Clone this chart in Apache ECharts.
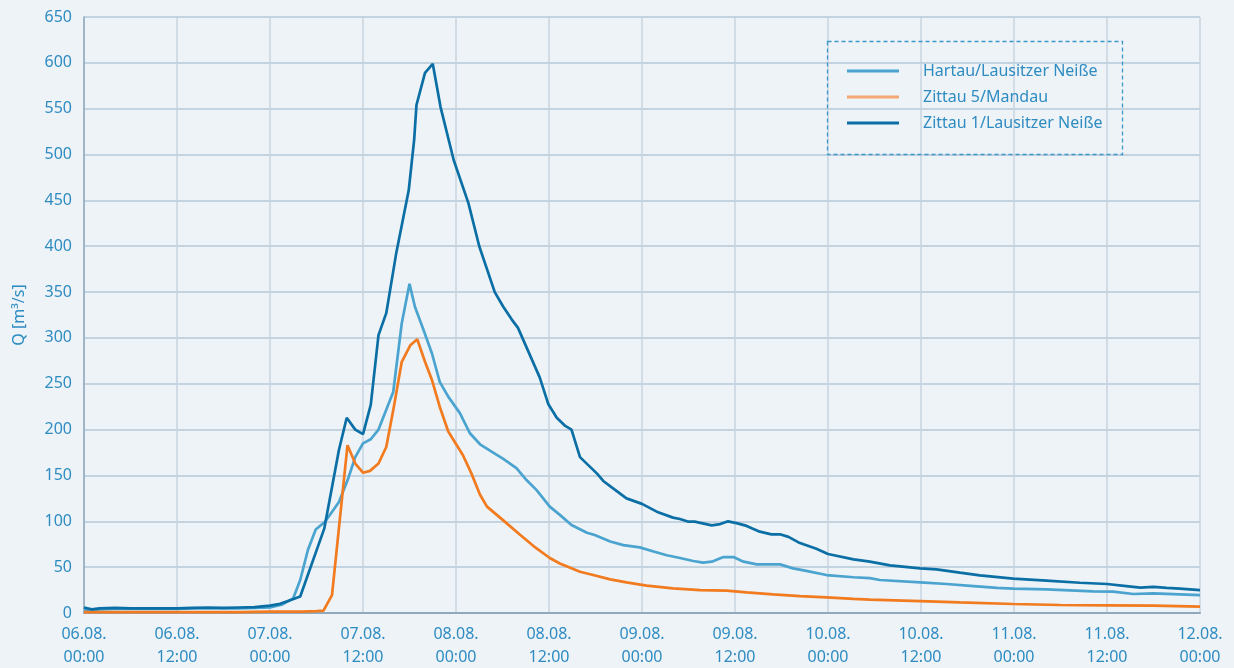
<!DOCTYPE html>
<html>
<head>
<meta charset="utf-8">
<script src="https://cdn.jsdelivr.net/npm/echarts@6/dist/echarts.min.js"></script>
<style>
html,body{margin:0;padding:0;background:#edf3f7;}
#c{width:1234px;height:668px;}
</style>
</head>
<body>
<div id="c"></div>
<script>
// hours since 06.08. 00:00
const seriesNames = ['Hartau/Lausitzer Neiße', 'Zittau 5/Mandau', 'Zittau 1/Lausitzer Neiße'];
const xTicks = [0, 12, 24, 36, 48, 60, 72, 84, 96, 108, 120, 132, 144];

const hartauT = [0, 1, 2, 4, 6, 8, 10, 12, 14, 16, 18, 20, 22, 24, 25.5, 27, 27.9, 28.9, 29.9, 31.1, 32.9, 34.1, 35, 36, 37, 38, 39.9, 41, 42, 42.7, 43.8, 44.9, 45.9, 47, 48.5, 49.8, 51.1, 52.8, 54.1, 55.8, 57.1, 58.4, 60.1, 61.4, 62.9, 64.9, 65.9, 67.9, 69.6, 71.7, 73.5, 75.2, 76.9, 78.6, 79.9, 81, 82.5, 83.8, 85.1, 86.8, 89.8, 91.5, 93.2, 95.8, 99.3, 101.4, 102.7, 107.9, 111.3, 114.8, 117.8, 119.9, 124.2, 130.2, 132.8, 135.4, 138, 141.4, 144];
const hartauQ = [4, 3, 4, 4.5, 4.5, 4.5, 4.5, 4.5, 5, 5, 5, 5, 5.5, 6, 9, 16, 36, 69, 91, 99.6, 121, 147, 170, 185, 189.5, 200, 241, 316, 359, 334, 309, 283, 252, 236, 218, 196, 184, 175, 168, 158, 145, 134, 116, 107, 96, 87.6, 85, 78, 74, 71.6, 67, 63, 60, 56.7, 55, 56, 61, 61, 56, 53, 53, 48.7, 46, 41.4, 39, 38, 36, 33.4, 31.6, 29.4, 27.3, 26.5, 25.8, 23.6, 23.3, 20.7, 21.5, 20.4, 19.6];

const mandauT = [0, 4, 8, 12, 16, 20, 24, 28, 30, 30.9, 32, 34, 35, 36, 36.9, 38, 39, 39.9, 41, 42.1, 43, 44, 44.9, 45.9, 47, 48.9, 50, 51.1, 52, 54.1, 56.3, 58, 60.1, 61.4, 64, 65.7, 67.9, 70, 72.6, 76, 79.5, 82.9, 85.5, 88.9, 92.4, 95.8, 99.3, 101.4, 107.9, 113, 119.9, 125.9, 132, 138, 144];
const mandauQ = [1, 1, 1, 1, 1, 1, 1.5, 1.5, 2, 2.5, 19.6, 183, 163, 153, 155, 163, 181, 221, 274, 292, 298.5, 274, 254, 225, 198, 172, 152, 129, 116, 101, 85, 73, 60, 54, 45, 41.4, 36.7, 33.4, 29.8, 26.9, 25, 24.3, 22.5, 20.4, 18.5, 17, 15.3, 14.5, 13, 11.6, 9.8, 8.7, 8.4, 8, 7];

const zittau1T = [0, 1, 2, 4, 6, 8, 10, 12, 14, 16, 18, 20, 22, 24, 25.3, 26.6, 27.9, 31, 32.9, 33.9, 35, 36, 37, 38, 39, 40.3, 41.9, 42.6, 42.9, 44, 45, 46, 47.7, 49.6, 51, 53, 54.1, 55.2, 56, 58.8, 59.9, 61, 62.1, 62.9, 64, 65.1, 66.2, 67, 68.1, 70, 72, 73.9, 76, 76.9, 78, 78.8, 81, 82.1, 83.1, 84.2, 85.5, 87.2, 88.7, 89.8, 90.9, 92.2, 94.5, 96, 99.3, 101.4, 104, 107.9, 110, 113, 115.6, 119.9, 124.2, 128.5, 132, 134.5, 136.3, 138, 139.7, 141.4, 144];
const zittau1Q = [6, 4, 5, 5.5, 5, 5, 5, 5, 5.5, 6, 5.5, 6, 6.5, 8, 10, 14, 18, 92, 178, 213, 200, 195, 227, 303, 327, 393, 461, 516, 554, 589, 599, 552, 494, 447, 400, 350, 334, 320, 311, 257, 228, 213, 204, 200, 170, 161, 152, 144, 137, 125, 119, 110.5, 104, 102.5, 99.6, 99.6, 95.6, 97, 100, 98, 95, 88.7, 85.8, 85.8, 83, 77, 70, 64.3, 58.5, 56, 52, 48.7, 47.6, 44, 41, 37.4, 35.3, 33, 31.6, 29.4, 27.6, 28.4, 27.3, 26.5, 25];

const zip = (t, q) => t.map((h, i) => [h, q[i]]);
const pad2 = n => (n < 10 ? '0' + n : '' + n);

const textColor = '#2f8cc2';
const font = '"Noto Sans", sans-serif';

const chart = echarts.init(document.getElementById('c'), null, {renderer: 'canvas'});
chart.setOption({
  backgroundColor: '#edf3f7',
  animation: false,
  grid: {left: 84, right: 34, top: 17, bottom: 55, containLabel: false, outerBoundsMode: 'none'},
  xAxis: {
    type: 'value', min: 0, max: 144, interval: 12,
    axisLine: {show: true, lineStyle: {color: '#91a9bd', width: 2}},
    axisTick: {show: false},
    splitLine: {show: true, lineStyle: {color: '#c7d5e0', width: 1.5}},
    axisLabel: {
      color: textColor, fontSize: 16, fontFamily: font, lineHeight: 23, margin: 10,
      formatter: function (v) {
        const d = 6 + Math.floor(v / 24);
        const h = v % 24;
        return pad2(d) + '.08.\n' + pad2(h) + ':00';
      }
    }
  },
  yAxis: {
    type: 'value', min: 0, max: 650, interval: 50,
    name: 'Q [m³/s]', nameLocation: 'middle', nameGap: 57, nameRotate: 90,
    nameTextStyle: {color: textColor, fontSize: 16, fontFamily: font},
    axisLine: {show: true, lineStyle: {color: '#91a9bd', width: 1.5}},
    axisTick: {show: false},
    splitLine: {show: true, lineStyle: {color: '#b5c8d7', width: 1.5}},
    axisLabel: {color: textColor, fontSize: 16, fontFamily: font, margin: 12}
  },
  legend: {
    orient: 'vertical', left: 842, top: 57,
    icon: 'rect', itemWidth: 52, itemHeight: 3, itemGap: 8,
    textStyle: {color: textColor, fontSize: 16, fontFamily: font, lineHeight: 18, padding: [0, 0, 0, 19]},
    data: [
      {name: seriesNames[0], itemStyle: {color: '#4ba3cf'}},
      {name: seriesNames[1], itemStyle: {color: '#f6a874'}},
      {name: seriesNames[2], itemStyle: {color: '#0b6fa6'}}
    ]
  },
  graphic: [{
    type: 'rect', z: 100,
    shape: {x: 827.5, y: 41.5, width: 295, height: 113},
    style: {fill: 'none', stroke: '#3d97c9', lineWidth: 1.3, lineDash: [4, 3]}
  }],
  series: [
    {name: seriesNames[0], type: 'line', data: zip(hartauT, hartauQ), showSymbol: false, symbol: 'none',
     lineStyle: {color: '#4ba3cf', width: 2.7}, itemStyle: {color: '#4ba3cf'}},
    {name: seriesNames[1], type: 'line', data: zip(mandauT, mandauQ), showSymbol: false, symbol: 'none',
     lineStyle: {color: '#f27a1f', width: 2.7}, itemStyle: {color: '#f27a1f'}},
    {name: seriesNames[2], type: 'line', data: zip(zittau1T, zittau1Q), showSymbol: false, symbol: 'none',
     lineStyle: {color: '#0b6fa6', width: 2.7}, itemStyle: {color: '#0b6fa6'}}
  ]
});
</script>
</body>
</html>
